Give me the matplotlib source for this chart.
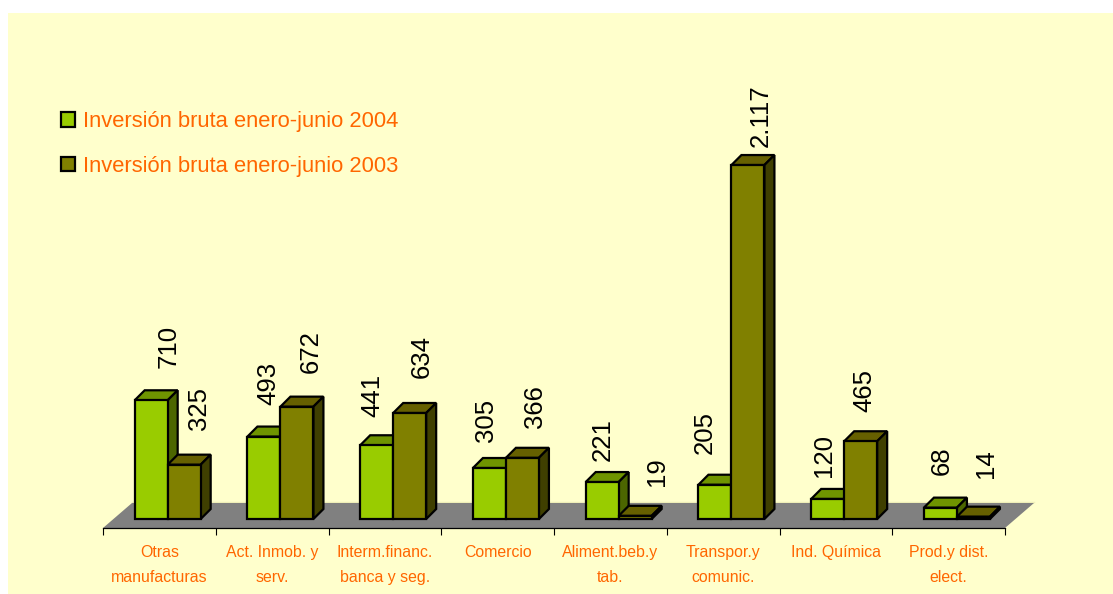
import matplotlib
matplotlib.use("Agg")
import matplotlib.pyplot as plt
from matplotlib.patches import Polygon

plt.rcParams['font.family'] = ['Liberation Sans', 'DejaVu Sans']

# ---- data ----
categories = ["Otras\nmanufacturas", "Act. Inmob. y\nserv.", "Interm.financ.\nbanca y seg.",
              "Comercio", "Aliment.beb.y\ntab.", "Transpor.y\ncomunic.",
              "Ind. Química", "Prod.y dist.\nelect."]
series_2004 = [710, 493, 441, 305, 221, 205, 120, 68]
series_2003 = [325, 672, 634, 366, 19, 2117, 465, 14]
name_2004 = "Inversión bruta enero-junio 2004"
name_2003 = "Inversión bruta enero-junio 2003"

# ---- label nudges, in pixels ----
dx_2004 = [17, 4, -4, -3, 1, -10, -4, 1]
gap_2004 = [32, 32, 28, 26, 21, 31, 22, 33]
dx_2003 = [15, 14, 12, 13, 22, 13, 4, 13]
gap_2003 = [35, 34, 35, 30, 30, 18, 29, 39]

# ---- style ----
W, H = 1113, 594
BG, ORANGE = "#FFFFCC", "#FF6600"
FLOOR = "#808080"
C04 = ("#99CC00", "#6F9400", "#4C6600")   # front, top, side
C03 = ("#808000", "#666000", "#3F3F00")
LW = 1.6

PX_X = 112.75     # pixels per category
PX_Y = 0.1672     # pixels per value unit
X0, Y0 = 103, 519 # pixel of x=0, y=0
L, T = 8, 13      # where the pale panel starts

fig = plt.figure(figsize=(W / 100, H / 100), dpi=100, facecolor="white")
ax = fig.add_axes([L / W, 0, (W - L) / W, (H - T) / H], facecolor=BG)
ax.set_xlim((L - X0) / PX_X, (W - X0) / PX_X)
ax.set_ylim((Y0 - H) / PX_Y, (Y0 - T) / PX_Y)

ux = 1 / PX_X  # one pixel in x data units
uy = 1 / PX_Y  # one pixel in y data units

# floor
n = len(categories)
floor_lo, floor_hi, skew = -9 * uy, 16 * uy, 29 * ux
ax.add_patch(Polygon([(0, floor_lo), (n, floor_lo), (n + skew, floor_hi), (skew, floor_hi)],
                     closed=True, fc=FLOOR, ec="none", zorder=1))
ax.plot([skew, n + skew], [floor_hi + 1 * uy] * 2, color="#EFEFB8", lw=1, zorder=0.9)

# bars
bw = 33 * ux
shift = 8.3 * ux
dpx, dpy = 10 * ux, 10 * uy
centers = [i + 0.5 + shift for i in range(n)]
x04 = [c - bw / 2 for c in centers]
x03 = [c + bw / 2 for c in centers]


def faces(xs, vals, colors, z):
    for x, v in zip(xs, vals):
        l, r = x - bw / 2, x + bw / 2
        ax.add_patch(Polygon([(l, v), (r, v), (r + dpx, v + dpy), (l + dpx, v + dpy)], closed=True,
                             fc=colors[1], ec="black", lw=LW, zorder=z, joinstyle="miter"))
        ax.add_patch(Polygon([(r, 0), (r + dpx, dpy), (r + dpx, v + dpy), (r, v)], closed=True,
                             fc=colors[2], ec="black", lw=LW, zorder=z, joinstyle="miter"))


faces(x04, series_2004, C04, 2)
b04 = ax.bar(x04, series_2004, width=bw, color=C04[0], edgecolor="black", linewidth=LW,
             zorder=3, label=name_2004)
faces(x03, series_2003, C03, 4)
b03 = ax.bar(x03, series_2003, width=bw, color=C03[0], edgecolor="black", linewidth=LW,
             zorder=5, label=name_2003)


def fmt(v):
    return f"{v:,}".replace(",", ".")


for xs, vals, dxs, gaps in ((x04, series_2004, dx_2004, gap_2004),
                            (x03, series_2003, dx_2003, gap_2003)):
    for x, v, dx, g in zip(xs, vals, dxs, gaps):
        ax.annotate(fmt(v), xy=(x, v), xytext=(dx, g), textcoords="offset pixels",
                    rotation=90, ha="center", va="bottom", fontsize=18.5, color="black", zorder=6)

# axis line with boundary ticks, labels between them
for s in ("top", "left", "right"):
    ax.spines[s].set_visible(False)
ax.spines["bottom"].set_position(("data", floor_lo))
ax.spines["bottom"].set_bounds(0, n)
ax.spines["bottom"].set_linewidth(0.9)
ax.spines["bottom"].set_zorder(2)
ax.set_yticks([])
ax.set_xticks(range(n + 1))
ax.set_xticklabels([])
ax.tick_params(axis="x", which="major", length=5, width=0.8, color="black")
ax.set_xticks([i + 0.5 for i in range(n)], minor=True)
ax.set_xticklabels(categories, minor=True, fontsize=11.4, color=ORANGE, linespacing=1.9, va="top")
ax.tick_params(axis="x", which="minor", length=0, pad=12)

# legend
leg = ax.legend(handles=[b04, b03], loc="upper left",
                bbox_to_anchor=(61 / W, 1 - 111 / H), bbox_transform=fig.transFigure,
                frameon=False, borderpad=0, borderaxespad=0,
                handlelength=0.636, handleheight=0.636, handletextpad=0.36, labelspacing=1.08,
                prop={"size": 15.85})
for t in leg.get_texts():
    t.set_color(ORANGE)

fig.savefig("out.png", dpi=100, facecolor="white")
